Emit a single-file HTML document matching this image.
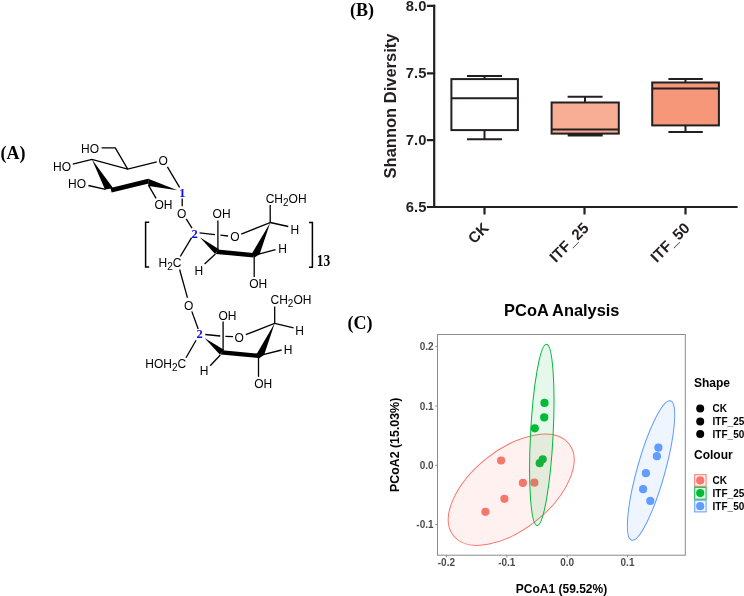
<!DOCTYPE html>
<html><head><meta charset="utf-8">
<style>
html,body{margin:0;padding:0;background:#fff;width:744px;height:596px;overflow:hidden}
svg{display:block;will-change:transform}
.ss{font-family:"Liberation Sans",sans-serif}
.sf{font-family:"Liberation Serif",serif}
</style></head>
<body>
<svg width="744" height="596" viewBox="0 0 744 596">
<rect width="744" height="596" fill="#fff"/>

<!-- ============ (A) chemical structure ============ -->
<g id="chem">
<text class="sf" x="0.5" y="158.8" font-size="18" font-weight="bold" fill="#000">(A)</text>
<g stroke="#000" stroke-width="1.3" fill="none" stroke-linejoin="miter">
  <!-- glucose -->
  <path d="M101.6 147.8H115.3L127.7 169.2"/>
  <path d="M72.8 164.2L91.9 159.4L127.7 169.2L156.8 161.9"/>
  <path d="M167.4 166.8L179.6 187.4"/>
  <path d="M88.4 185.5L105.5 189.4"/>
  <path d="M148.4 185.1L156.1 198.3"/>
  <path d="M182.2 198.4V206.2"/>
  <!-- upper fructose -->
  <path d="M186.2 218.9L192 228.2"/>
  <path d="M191.6 237.6L180.3 256.5"/>
  <path d="M179.6 269.5L187.5 297.8"/>
  <path d="M199.5 232.9L215 234.7M220.4 235.2L228 236"/>
  <path d="M241.2 234.1L270.2 222.5V205.1"/>
  <path d="M270.2 222.5L288.3 226.5"/>
  <path d="M217.9 250V220.6"/>
  <path d="M215.4 254L204.6 264"/>
  <path d="M256 254.8L275.5 249.6"/>
  <path d="M254.2 255V277"/>
  <!-- lower fructose -->
  <path d="M191.8 311.4L198.2 329"/>
  <path d="M196.1 340.3L186 357.8"/>
  <path d="M205.3 334.5L220.3 336M225.4 336.3L233.1 336.6"/>
  <path d="M245.8 334.7L274.7 323.3V306.6"/>
  <path d="M274.7 323.3L293.6 327.9"/>
  <path d="M223.1 351V321.5"/>
  <path d="M220.3 355L210.2 365.8"/>
  <path d="M260.2 355.4L281.6 350"/>
  <path d="M258.5 355.6V376.8"/>
  <!-- brackets -->
  <path d="M149.2 222.2H145.6V267.1H149.2" stroke-width="1.5"/>
  <path d="M309 222.5H312.4V267.2H309" stroke-width="1.5"/>
</g>
<g fill="#000" stroke="none">
  <!-- glucose wedges and bold -->
  <path d="M91.9 159.2L105 189.6L113.2 188.2Z"/>
  <path d="M110.5 187.9L148.2 178.7L148.8 183.4L111.6 192.6Z"/>
  <path d="M148.2 178.7L177.4 190.3L148.4 185.9Z"/>
  <!-- upper fructose -->
  <path d="M199.8 237.2L218.6 248.9L215.1 254Z"/>
  <path d="M217.5 249.5L253.2 253L253.6 257.4L215.9 253.9Z"/>
  <path d="M270.3 222.4L259.6 254.2L254.6 257.6L251.9 253.6Z"/>
  <!-- lower fructose -->
  <path d="M204.5 338L223.5 349.6L220 354.8Z"/>
  <path d="M222.3 350.2L257.8 353.6L258.3 358L220.7 354.6Z"/>
  <path d="M274.8 323.1L264.2 354.8L259.2 358.2L256.5 354.2Z"/>
</g>
<g class="ss" font-size="12" fill="#000">
  <text x="81.1" y="152.6">HO</text>
  <text x="53" y="170.5">HO</text>
  <text x="68" y="188.2">HO</text>
  <text x="158.5" y="164.6">O</text>
  <text x="154.5" y="209.4">OH</text>
  <text x="177" y="217.8">O</text>
  <text x="212.6" y="218.1">OH</text>
  <text x="230.2" y="241.2">O</text>
  <text x="265.7" y="202.8">CH<tspan font-size="10" dy="3.1">2</tspan><tspan dy="-3.1">OH</tspan></text>
  <text x="290.4" y="233.8">H</text>
  <text x="278.3" y="252.6">H</text>
  <text x="194.4" y="274.6">H</text>
  <text x="249.2" y="287.8">OH</text>
  <text x="158.5" y="267.1">H<tspan font-size="10" dy="3.1">2</tspan><tspan dy="-3.1">C</tspan></text>
  <text x="183.9" y="309.6">O</text>
  <text x="218.4" y="319.5">OH</text>
  <text x="234.5" y="342.3">O</text>
  <text x="270.5" y="303.9">CH<tspan font-size="10" dy="3.1">2</tspan><tspan dy="-3.1">OH</tspan></text>
  <text x="295.2" y="334.9">H</text>
  <text x="283.8" y="354.3">H</text>
  <text x="199.8" y="375.2">H</text>
  <text x="254.2" y="387.9">OH</text>
  <text x="145.3" y="367.8">HOH<tspan font-size="10" dy="3.1">2</tspan><tspan dy="-3.1">C</tspan></text>
</g>
<g class="sf" font-size="12" font-weight="bold" fill="#0a0af5">
  <text x="178.9" y="196.8" font-size="13">1</text>
  <text x="191.4" y="237.5" font-size="12.5">2</text>
  <text x="196.4" y="338.2" font-size="12.5">2</text>
</g>
<text class="sf" transform="translate(316.7,266.2) scale(0.9,1.05)" font-size="15" font-weight="bold" fill="#000">13</text>
</g>

<!-- ============ (B) box plot ============ -->
<g id="boxplot">
<text class="sf" x="350" y="15.8" font-size="18" font-weight="bold" fill="#000">(B)</text>
<g stroke="#231f20" stroke-width="2.2" fill="none" stroke-linecap="square">
  <path d="M434.2 5.8V207M433 207H736.5"/>
  <path d="M428 5.8H434M428 73.3H434M428 140.1H434M428 207H434"/>
  <path d="M484.5 207V213.5M584.5 207V213.5M685.5 207V213.5"/>
</g>
<g class="ss" font-size="14.8" font-weight="bold" fill="#231f20" text-anchor="end">
  <text x="426.4" y="11.1">8.0</text>
  <text x="426.4" y="78.2">7.5</text>
  <text x="426.4" y="145">7.0</text>
  <text x="426.4" y="212">6.5</text>
</g>
<text class="ss" transform="translate(396,106) rotate(-90)" font-size="16.5" font-weight="bold" fill="#231f20" text-anchor="middle">Shannon Diversity</text>
<g class="ss" font-size="15.2" font-weight="bold" fill="#231f20" text-anchor="end">
  <text transform="translate(489.7,229.1) rotate(-45)">CK</text>
  <text transform="translate(589.7,229.1) rotate(-45)">ITF_25</text>
  <text transform="translate(690.7,229.1) rotate(-45)">ITF_50</text>
</g>
<g stroke="#231f20" stroke-width="2" fill="none">
  <!-- CK -->
  <path d="M484.5 79.1V75.9M467 75.9H502M484.5 130.1V139.3M467 139.3H502"/>
  <rect x="451.4" y="79.1" width="66.5" height="51" fill="#fff"/>
  <path d="M451.4 98.2H517.9"/>
  <!-- ITF_25 -->
  <path d="M585 102.5V96.7M567.6 96.7H602.6"/><path d="M567.7 135H602.7" stroke-width="3"/>
  <rect x="551.6" y="102.5" width="67.2" height="31.1" fill="#f7ae94"/>
  <path d="M551.6 129.5H618.8"/>
  <!-- ITF_50 -->
  <path d="M685.5 82.5V79.1M668.4 79.1H702.8M685.5 125.4V132M668.4 132H702.8"/>
  <rect x="652.2" y="82.5" width="66.7" height="42.9" fill="#f6977a"/>
  <path d="M652.2 88.5H718.9"/>
</g>
</g>

<!-- ============ (C) PCoA ============ -->
<g id="pcoa">
<text class="sf" x="347.5" y="329.2" font-size="18" font-weight="bold" fill="#000">(C)</text>
<text class="ss" x="561.8" y="316.3" font-size="16.4" font-weight="bold" fill="#000" text-anchor="middle">PCoA Analysis</text>
<rect x="437.5" y="334.5" width="247.8" height="220.7" fill="#fff" stroke="#8a8a8a" stroke-width="1"/>
<!-- points -->
<g fill="#F8766D">
  <circle cx="501.1" cy="460.5" r="4.1"/>
  <circle cx="522.9" cy="482.9" r="4.1"/>
  <circle cx="534.4" cy="482.7" r="4.1"/>
  <circle cx="504.4" cy="498.8" r="4.1"/>
  <circle cx="485.4" cy="511.8" r="4.1"/>
</g>
<g fill="#00BA38">
  <circle cx="544.5" cy="402.9" r="4.1"/>
  <circle cx="544.2" cy="417.4" r="4.1"/>
  <circle cx="534.8" cy="428.3" r="4.1"/>
  <circle cx="542.7" cy="459.3" r="4.1"/>
  <circle cx="539.7" cy="463.2" r="4.1"/>
</g>
<g fill="#619CFF">
  <circle cx="658.4" cy="447.7" r="4.1"/>
  <circle cx="656.9" cy="456.2" r="4.1"/>
  <circle cx="645.9" cy="473.2" r="4.1"/>
  <circle cx="643.1" cy="489.2" r="4.1"/>
  <circle cx="650.3" cy="500.9" r="4.1"/>
</g>
<!-- ellipses -->
<g stroke-width="1">
  <ellipse cx="0" cy="0" rx="73.8" ry="39.9" transform="translate(511.2,489.75) rotate(-38.5)" fill="#F8766D" fill-opacity="0.1" stroke="#F8766D"/>
  <ellipse cx="0" cy="0" rx="11.3" ry="90.67" transform="translate(541.8,434.9) rotate(2.95)" fill="#00BA38" fill-opacity="0.1" stroke="#00BA38"/>
  <ellipse cx="0" cy="0" rx="13.96" ry="72.36" transform="translate(651.05,470.5) rotate(15.6)" fill="#619CFF" fill-opacity="0.1" stroke="#619CFF"/>
</g>
<!-- ticks -->
<g stroke="#8a8a8a" stroke-width="1">
  <path d="M435.3 346.6H437.5M435.3 406H437.5M435.3 465.3H437.5M435.3 524.6H437.5"/>
  <path d="M446.4 555.2V557.4M506.8 555.2V557.4M567.2 555.2V557.4M627.5 555.2V557.4"/>
</g>
<g class="ss" font-size="10" font-weight="bold" fill="#4d4d4d" text-anchor="end">
  <text x="433.6" y="350.2">0.2</text>
  <text x="433.6" y="409.6">0.1</text>
  <text x="433.6" y="468.9">0.0</text>
  <text x="433.6" y="528.2">-0.1</text>
</g>
<g class="ss" font-size="10" font-weight="bold" fill="#4d4d4d" text-anchor="middle">
  <text x="446.4" y="566.4">-0.2</text>
  <text x="506.8" y="566.4">-0.1</text>
  <text x="567.2" y="566.4">0.0</text>
  <text x="627.5" y="566.4">0.1</text>
</g>
<text class="ss" x="561.5" y="592.9" font-size="12" font-weight="bold" fill="#000" text-anchor="middle">PCoA1 (59.52%)</text>
<text class="ss" transform="translate(398.8,444.9) rotate(-90)" font-size="12.4" font-weight="bold" fill="#000" text-anchor="middle">PCoA2 (15.03%)</text>
<!-- legend -->
<text class="ss" x="694" y="386.5" font-size="12" font-weight="bold" fill="#000">Shape</text>
<g fill="#000">
  <circle cx="700.2" cy="408.6" r="4"/>
  <circle cx="700.2" cy="421.4" r="4"/>
  <circle cx="700.2" cy="434.1" r="4"/>
</g>
<g class="ss" font-size="10" font-weight="bold" fill="#000">
  <text x="712.6" y="411.8">CK</text>
  <text x="712.6" y="424.7">ITF_25</text>
  <text x="712.6" y="437.5">ITF_50</text>
</g>
<text class="ss" x="694" y="458.8" font-size="12" font-weight="bold" fill="#000">Colour</text>
<g stroke-width="1">
  <rect x="694.7" y="474.7" width="11.4" height="11.6" fill="#F8766D" fill-opacity="0.1" stroke="#F8766D"/>
  <rect x="694.7" y="487.3" width="11.4" height="11.9" fill="#00BA38" fill-opacity="0.1" stroke="#00BA38"/>
  <rect x="694.7" y="500.2" width="11.4" height="11.7" fill="#619CFF" fill-opacity="0.1" stroke="#619CFF"/>
</g>
<circle cx="700.2" cy="480.4" r="4.1" fill="#F8766D"/>
<circle cx="700.2" cy="493.1" r="4.1" fill="#00BA38"/>
<circle cx="700.2" cy="506.2" r="4.1" fill="#619CFF"/>
<g class="ss" font-size="10" font-weight="bold" fill="#000">
  <text x="712.6" y="484.3">CK</text>
  <text x="712.6" y="497">ITF_25</text>
  <text x="712.6" y="509.8">ITF_50</text>
</g>
</g>
</svg>
</body></html>
